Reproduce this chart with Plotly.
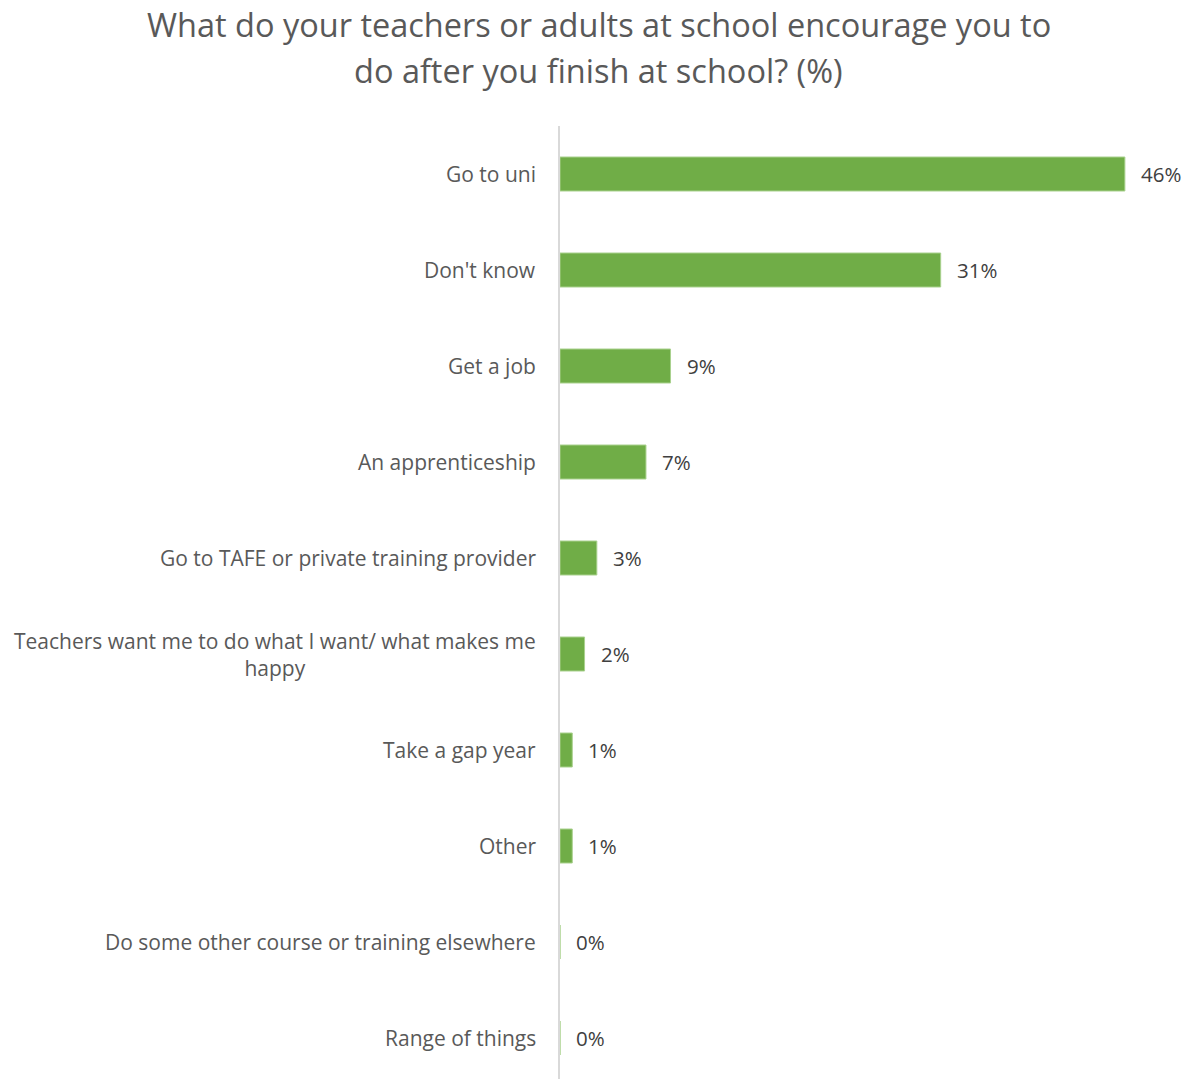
import plotly.graph_objects as go

# Survey responses (percent of respondents)
categories = [
    "Go to uni",
    "Don't know",
    "Get a job",
    "An apprenticeship",
    "Go to TAFE or private training provider",
    "Teachers want me to do what I want/ what makes me<br>happy",
    "Take a gap year",
    "Other",
    "Do some other course or training elsewhere",
    "Range of things",
]
values = [46, 31, 9, 7, 3, 2, 1, 1, 0, 0]
value_labels = ["46%", "31%", "9%", "7%", "3%", "2%", "1%", "1%", "0%", "0%"]

title_lines = [
    "What do your teachers or adults at school encourage you to",
    "do after you finish at school? (%)",
]

FONT = "Open Sans"
W, H = 1193, 1079
LEFT, RIGHT, TOP = 560, 19, 126

fig = go.Figure()
fig.add_trace(go.Bar(
    x=values,
    y=categories,
    orientation="h",
    marker=dict(color="#70ad47", line=dict(color="#a9d18e", width=1)),
    hoverinfo="skip",
))

# value labels to the right of each bar
for cat, v, lab in zip(categories, values, value_labels):
    fig.add_annotation(
        x=v, y=cat, xref="x", yref="y", text=lab, showarrow=False,
        xanchor="left", yanchor="middle", xshift=14,
        font=dict(family=FONT, size=20.5, color="#404040"),
    )

# category labels, centred on multiple lines
for cat in categories:
    fig.add_annotation(
        x=0, y=cat, xref="paper", yref="y", text=cat, showarrow=False,
        xanchor="right", yanchor="middle", xshift=-22, align="center",
        font=dict(family=FONT, size=21, color="#595959"),
    )

plot_h = H - TOP
band_px = 96
span = plot_h / band_px

# chart title, two centred lines at the top of the page
for i, line in enumerate(title_lines):
    fig.add_annotation(
        x=0.5, xref="paper", y=1 + TOP / plot_h, yref="paper",
        xanchor="center", yanchor="top", yshift=-46 * i,
        xshift=2 - (LEFT - RIGHT) / 2,
        text=line, showarrow=False, align="center",
        font=dict(family=FONT, size=32.5, color="#595959"),
    )

fig.update_layout(
    width=W, height=H,
    margin=dict(l=LEFT, r=RIGHT, t=TOP, b=0, pad=0),
    paper_bgcolor="white", plot_bgcolor="white",
    showlegend=False,
    bargap=1 - 34 / 96,
    xaxis=dict(range=[0, 50], visible=False, fixedrange=True),
    yaxis=dict(
        type="category", categoryorder="array", categoryarray=categories,
        range=[-0.5 + span, -0.5],
        showticklabels=False, showgrid=False, zeroline=False, ticks="",
        showline=True, linecolor="#d9d9d9", linewidth=2,
    ),
)

fig.write_html("out.html")
